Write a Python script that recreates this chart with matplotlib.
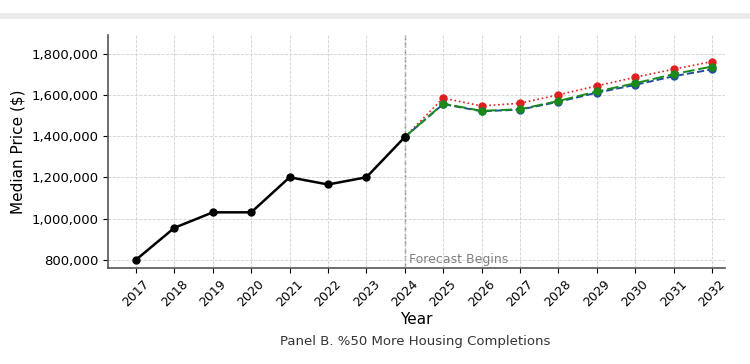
import matplotlib.pyplot as plt
from matplotlib.ticker import FuncFormatter
from matplotlib.patches import Rectangle

# historical median prices
hist_years = [2017, 2018, 2019, 2020, 2021, 2022, 2023, 2024]
hist_price = [800000, 955000, 1030000, 1030000, 1200000, 1165000, 1200000, 1395000]

# forecast scenarios (start at 2024)
fc_years = [2024, 2025, 2026, 2027, 2028, 2029, 2030, 2031, 2032]
fc_red = [1395000, 1584000, 1546000, 1559000, 1600000, 1643000, 1685000, 1724000, 1761000]
fc_blue = [1395000, 1555000, 1520000, 1528000, 1566000, 1610000, 1648000, 1690000, 1723000]
fc_green = [1395000, 1557000, 1522000, 1530000, 1570000, 1616000, 1656000, 1700000, 1737000]

fig = plt.figure(figsize=(7.5, 3.64), dpi=100)
ax = fig.add_axes([108/750, 1 - 268/364, (725 - 108)/750, (268 - 35)/364])

# light strip at top of the screenshot
fig.patches.append(Rectangle((0, 1 - 19/364), 1, 6/364, transform=fig.transFigure,
                             color='#ececec', lw=0, zorder=0))

ax.plot(hist_years, hist_price, color='black', marker='o', ms=5, lw=1.8, zorder=5)
ax.plot(fc_years, fc_blue, color='#1f4e9c', ls='--', marker='o', ms=5, lw=1.4, zorder=3)
ax.plot(fc_years, fc_green, color='#1a8a1a', ls=(0, (6, 2)), marker='o', ms=5, lw=1.4, zorder=4)
ax.plot(fc_years, fc_red, color='#e02020', ls=':', marker='o', ms=5, lw=1.2, zorder=2)

ax.axvline(2024, color='gray', ls='--', lw=1, zorder=1)
ax.text(2024.1, 800000, 'Forecast Begins', color='gray', fontsize=9, va='center', ha='left')

ax.set_xlim(2016.27, 2032.34)
ax.set_ylim(760000, 1890000)
ax.set_xticks(range(2017, 2033))
ax.set_xticklabels([str(y) for y in range(2017, 2033)], rotation=45, fontsize=9)
ax.set_yticks(range(800000, 1800001, 200000))
ax.yaxis.set_major_formatter(FuncFormatter(lambda v, p: f'{int(v):,}'))
ax.tick_params(axis='y', labelsize=9.5)
ax.grid(True, ls='--', lw=0.6, color='#d0d0d0')
for s in ['top', 'right']:
    ax.spines[s].set_visible(False)
for s in ['left', 'bottom']:
    ax.spines[s].set_color('#555555')
    ax.spines[s].set_linewidth(1.2)

ax.set_xlabel('Year', fontsize=11, labelpad=2)
ax.set_ylabel('Median Price ($)', fontsize=11)

fig.text(415/750, 1 - 342/364, 'Panel B. %50 More Housing Completions', ha='center', va='center',
         fontsize=9.5, color='#333333')

fig.savefig('out.png', dpi=100)
